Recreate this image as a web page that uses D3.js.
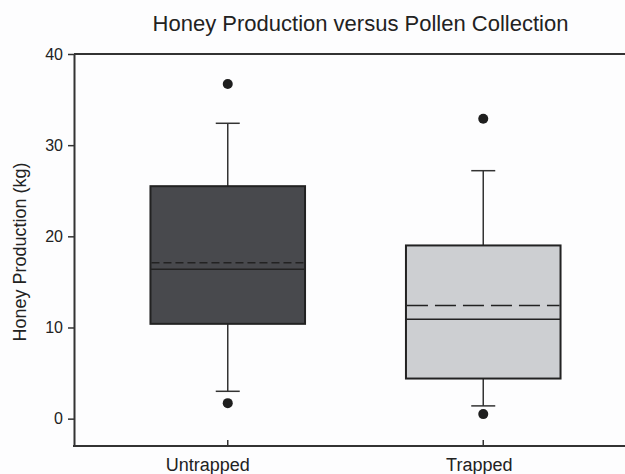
<!DOCTYPE html>
<html>
<head>
<meta charset="utf-8">
<script src="https://cdn.jsdelivr.net/npm/d3@7"></script>
<style>
  html, body { margin: 0; padding: 0; background: #fdfdfe; }
  svg.vis { display: block; font-family: "Liberation Sans", Arial, sans-serif; }
</style>
</head>
<body>
<svg class="vis" width="625" height="474"></svg>
<script>

// values
const categories  = ["Untrapped", "Trapped"];
const q1          = [10.4, 4.4];
const medians     = [16.4, 10.9];
const means       = [17.1, 12.4];
const q3          = [25.5, 19.0];
const whiskerLow  = [3.0, 1.4];
const whiskerHigh = [32.4, 27.2];
const outliers    = [[1.7, 36.7], [0.5, 32.9]];
const yTicks      = [0, 10, 20, 30, 40];

const vis = {

    refs: {
        svg: "svg.vis"
    },

    sels: {
        svg: null
    },

    dims: {
        w: 625,
        h: 474,
        left: 74,
        top: 54,
        bottom: 446
    },

    params: {
        fills: ["#48494d", "#cdcfd2"],
        meanDash: ["8,4", "21,7"],
        labelNudge: [-20, -4],
        boxFrac: 0.605,
        capHalf: 12,
        ink: "#222",
        font: "'Liberation Sans', Arial, sans-serif"
    },

    data: [],

    init: function() {
        vis.sels.svg = d3.select(vis.refs.svg);
        vis.f.build_data();
        vis.draw.scales.initialize();
        vis.draw.axes();
        vis.draw.boxes();
        vis.draw.texts();
    },

    f: {
        build_data: function() {
            vis.data = categories.map((c, i) => ({
                cat: c,
                i: i,
                q1: q1[i],
                med: medians[i],
                mean: means[i],
                q3: q3[i],
                lo: whiskerLow[i],
                hi: whiskerHigh[i],
                out: outliers[i]
            }));
        }
    },

    draw: {

        scales: {
            x: d3.scaleBand(),
            y: d3.scaleLinear(),

            initialize: function() {
                vis.draw.scales.x
                  .domain(categories)
                  .range([100, 611])
                  .padding(0);
                vis.draw.scales.y
                  .domain([-3, 40])
                  .range([vis.dims.bottom, vis.dims.top]);
            }
        },

        axes: function() {
            let svg = vis.sels.svg;
            let dims = vis.dims;
            let x = vis.draw.scales.x;
            let y = vis.draw.scales.y;

            // frame lines top and bottom run to the edge of the picture
            svg.append("line")
              .attr("x1", dims.left).attr("x2", dims.w)
              .attr("y1", dims.top).attr("y2", dims.top)
              .attr("stroke", "#333").attr("stroke-width", 2);

            let gy = svg.append("g")
              .attr("transform", `translate(${dims.left},0)`)
              .call(d3.axisLeft(y).tickValues(yTicks).tickSize(6).tickSizeOuter(0).tickPadding(5));
            gy.attr("font-family", null);
            gy.select(".domain").attr("stroke", "#333").attr("stroke-width", 2);
            gy.selectAll(".tick line").attr("stroke", "#333").attr("stroke-width", 1.5);
            gy.selectAll(".tick text")
              .attr("font-size", 16)
              .style("font-family", vis.params.font)
              .attr("fill", vis.params.ink);

            let gx = svg.append("g")
              .attr("transform", `translate(0,${dims.bottom})`)
              .call(d3.axisBottom(x).tickSizeInner(-6).tickSizeOuter(0).tickPadding(12));
            gx.attr("font-family", null);
            gx.select(".domain").remove();
            gx.selectAll(".tick line").attr("stroke", "#333").attr("stroke-width", 1.5);
            gx.selectAll(".tick text")
              .attr("font-size", 18)
              .style("font-family", vis.params.font)
              .attr("fill", vis.params.ink)
              .attr("dx", (d, i) => vis.params.labelNudge[i]);

            svg.append("line")
              .attr("x1", dims.left - 1).attr("x2", dims.w)
              .attr("y1", dims.bottom).attr("y2", dims.bottom)
              .attr("stroke", "#333").attr("stroke-width", 2);
        },

        boxes: function() {
            let svg = vis.sels.svg;
            let x = vis.draw.scales.x;
            let y = vis.draw.scales.y;
            let p = vis.params;
            let bw = x.bandwidth() * p.boxFrac;
            let cx = d => x(d.cat) + x.bandwidth() / 2;

            let g = svg.append("g")
              .selectAll("g.box")
              .data(vis.data)
              .join("g")
              .attr("class", "box");

            // whiskers
            g.append("line")
              .attr("x1", cx).attr("x2", cx)
              .attr("y1", d => y(d.hi)).attr("y2", d => y(d.q3))
              .attr("stroke", "#333").attr("stroke-width", 1.5);
            g.append("line")
              .attr("x1", cx).attr("x2", cx)
              .attr("y1", d => y(d.q1)).attr("y2", d => y(d.lo))
              .attr("stroke", "#333").attr("stroke-width", 1.5);

            // caps
            ["hi", "lo"].forEach(k => {
                g.append("line")
                  .attr("x1", d => cx(d) - p.capHalf).attr("x2", d => cx(d) + p.capHalf)
                  .attr("y1", d => y(d[k])).attr("y2", d => y(d[k]))
                  .attr("stroke", "#333").attr("stroke-width", 1.5);
            });

            // box
            g.append("rect")
              .attr("x", d => cx(d) - bw / 2)
              .attr("width", bw)
              .attr("y", d => y(d.q3))
              .attr("height", d => y(d.q1) - y(d.q3))
              .attr("fill", d => p.fills[d.i])
              .attr("stroke", "#222")
              .attr("stroke-width", 2);

            // median
            g.append("line")
              .attr("x1", d => cx(d) - bw / 2).attr("x2", d => cx(d) + bw / 2)
              .attr("y1", d => y(d.med)).attr("y2", d => y(d.med))
              .attr("stroke", "#222").attr("stroke-width", 1.5);

            // mean, dashed
            g.append("line")
              .attr("x1", d => cx(d) - bw / 2 + 1).attr("x2", d => cx(d) + bw / 2 - 1)
              .attr("y1", d => y(d.mean)).attr("y2", d => y(d.mean))
              .attr("stroke", "#222").attr("stroke-width", 1.5)
              .attr("stroke-dasharray", d => p.meanDash[d.i]);

            // outliers
            g.selectAll("circle")
              .data(d => d.out.map(v => ({ v: v, d: d })))
              .join("circle")
              .attr("cx", o => cx(o.d))
              .attr("cy", o => y(o.v))
              .attr("r", 5)
              .attr("fill", "#1e1e1e");
        },

        texts: function() {
            let svg = vis.sels.svg;

            svg.append("text")
              .attr("x", 360.5)
              .attr("y", 31)
              .attr("text-anchor", "middle")
              .attr("font-size", 22)
              .attr("fill", vis.params.ink)
              .text("Honey Production versus Pollen Collection");

            svg.append("text")
              .attr("transform", "translate(26,252) rotate(-90)")
              .attr("text-anchor", "middle")
              .attr("font-size", 18)
              .attr("fill", vis.params.ink)
              .text("Honey Production (kg)");
        }
    }
};

vis.init();
</script>
</body>
</html>
